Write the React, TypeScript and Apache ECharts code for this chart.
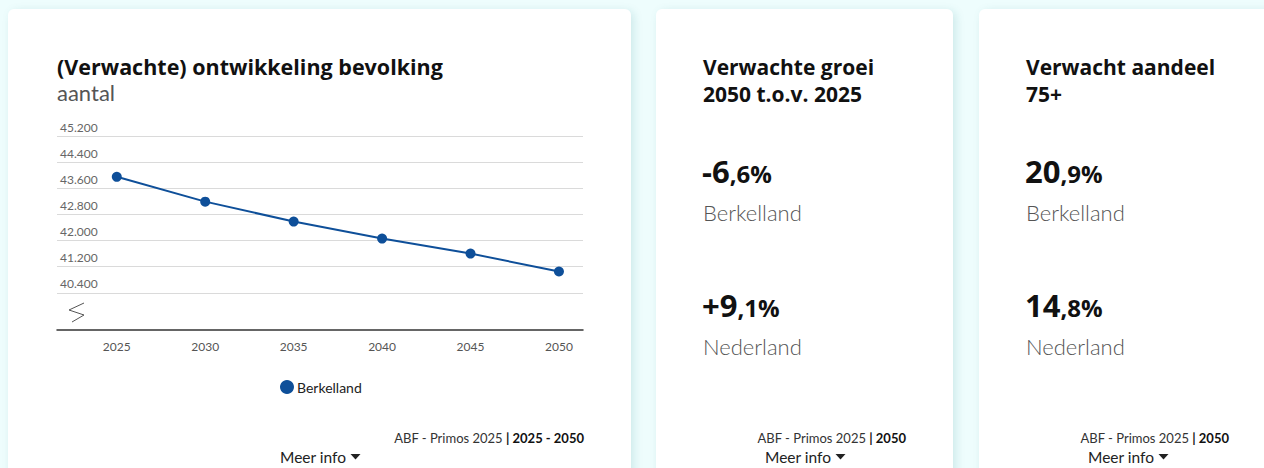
import React, { useEffect, useRef } from "react";
import * as echarts from "echarts";

// ---- data ----
const years = [2025, 2030, 2035, 2040, 2045, 2050];
const population = [43950, 43190, 42580, 42060, 41600, 41050];
const yTicks = [40400, 41200, 42000, 42800, 43600, 44400, 45200];
const seriesName = "Berkelland";
const chartTitle = "(Verwachte) ontwikkeling bevolking";
const chartSubtitle = "aantal";
const chartSourcePeriod = "2025 - 2050";

const cardTitles = ["Verwachte groei\n2050 t.o.v. 2025", "Verwacht aandeel\n75+"];
const regions = ["Berkelland", "Nederland"];
const growth = [-6.6, 9.1];
const share75 = [20.9, 14.8];
const cardSourcePeriods = ["2050", "2050"];
const sourceName = "ABF - Primos 2025";
const moreInfo = "Meer info";

const FONT = "Lato";
const BOLD = "Open Sans";
const BLUE = "#0e4f99";

const fmtThousands = (v: number) =>
  String(Math.round(v)).replace(/\B(?=(\d{3})+(?!\d))/g, ".");

const fmtPct = (v: number, signed: boolean) => {
  const s = signed ? (v < 0 ? "-" : "+") : "";
  const parts = Math.abs(v).toFixed(1).split(".");
  return `{a|${s}${parts[0]}}{b|,${parts[1]}%}`;
};

const cards = [
  { x: 8, w: 623 },
  { x: 656, w: 297 },
  { x: 979, w: 297 },
];

function footer(cardX: number, cardW: number, period: string): any[] {
  const center = cardX + cardW / 2;
  const right = cardX + cardW - 47;
  return [
    {
      type: "text",
      x: right,
      y: 438,
      z: 100,
      style: {
        text: `{r|${sourceName} }{b|| ${period}}`,
        textAlign: "right",
        textVerticalAlign: "middle",
        fontFamily: FONT,
        rich: {
          r: { fontSize: 13, fill: "#333", fontFamily: FONT },
          b: { fontSize: 13, fill: "#111", fontWeight: "bold", fontFamily: FONT },
        },
      },
    },
    {
      type: "text",
      x: center - 39.5,
      y: 457,
      z: 100,
      style: {
        text: moreInfo,
        fontSize: 15.5,
        fontFamily: FONT,
        fill: "#222",
        textVerticalAlign: "middle",
      },
    },
    {
      type: "polygon",
      z: 100,
      shape: {
        points: [
          [center + 31, 454],
          [center + 41, 454],
          [center + 36, 459.5],
        ],
      },
      style: { fill: "#222" },
    },
  ];
}

function statCard(cardX: number, title: string, values: number[], signed: boolean): any[] {
  const left = cardX + 47;
  const els: any[] = [
    {
      type: "text",
      x: left,
      y: 53,
      z: 100,
      style: {
        text: title,
        fontSize: 21,
        fontWeight: "bold",
        fontFamily: BOLD,
        fill: "#111",
        lineHeight: 27,
        textVerticalAlign: "top",
      },
    },
  ];
  const rowY = [168, 302];
  const labelY = [212, 346];
  values.forEach((v, i) => {
    els.push({
      type: "text",
      x: left - 1,
      y: rowY[i],
      z: 100,
      style: {
        text: fmtPct(v, signed),
        textVerticalAlign: "middle",
        fontFamily: BOLD,
        rich: {
          a: { fontSize: 31, fontWeight: "bold", fill: "#111", fontFamily: BOLD, verticalAlign: "bottom", lineHeight: 36 },
          b: { fontSize: 24, fontWeight: "bold", fill: "#111", fontFamily: BOLD, verticalAlign: "bottom", lineHeight: 36, padding: [0, 0, 1, 0] },
        },
      },
    });
    els.push({
      type: "text",
      x: left,
      y: labelY[i],
      z: 100,
      style: {
        text: regions[i],
        fontSize: 22,
        fontWeight: 300,
        fontFamily: FONT,
        fill: "#555",
        textVerticalAlign: "middle",
      },
    });
  });
  return els;
}

export default function App() {
  const ref = useRef<HTMLDivElement>(null);

  useEffect(() => {
    if (!ref.current) return;
    const chart = echarts.init(ref.current, undefined, { renderer: "svg" });

    const graphic: any[] = [
      {
        type: "text",
        x: 57,
        y: 66,
        z: 100,
        style: {
          text: chartTitle,
          fontSize: 21.5,
          fontWeight: "bold",
          fontFamily: BOLD,
          fill: "#111",
          textVerticalAlign: "middle",
        },
      },
      {
        type: "text",
        x: 57,
        y: 92,
        z: 100,
        style: {
          text: chartSubtitle,
          fontSize: 22,
          fontFamily: FONT,
          fontWeight: 400,
          fill: "#555",
          textVerticalAlign: "middle",
        },
      },
      {
        type: "polyline",
        z: 100,
        shape: {
          points: [
            [84, 303],
            [69, 310],
            [84, 315],
            [72, 322],
          ],
        },
        style: { stroke: "#555", lineWidth: 1, fill: "none" },
      },
      ...footer(cards[0].x, cards[0].w, chartSourcePeriod),
      ...statCard(cards[1].x, cardTitles[0], growth, true),
      ...footer(cards[1].x, cards[1].w, cardSourcePeriods[0]),
      ...statCard(cards[2].x, cardTitles[1], share75, false),
      ...footer(cards[2].x, cards[2].w, cardSourcePeriods[1]),
    ];

    const option: any = {
      animation: false,
      textStyle: { fontFamily: FONT },
      grid: { left: 57, right: 1264 - 583, top: 136, bottom: 468 - 330, containLabel: false },
      xAxis: {
        type: "value",
        min: 2021.62,
        max: 2051.36,
        splitLine: { show: false },
        axisLine: { show: true, lineStyle: { color: "#333", width: 1.5 } },
        axisTick: { show: false, customValues: years },
        axisLabel: {
          customValues: years,
          formatter: (v: number) => String(v),
          color: "#555",
          fontSize: 12,
          margin: 10,
          fontFamily: FONT,
        },
      },
      yAxis: {
        type: "value",
        min: 39260,
        max: 45200,
        axisLine: { show: false },
        axisTick: { show: false, customValues: yTicks },
        axisLabel: {
          customValues: yTicks,
          inside: true,
          formatter: (v: number) => fmtThousands(v),
          color: "#666",
          fontSize: 12,
          fontFamily: FONT,
          verticalAlign: "bottom",
          padding: [0, 0, 3, 0],
          margin: 3,
        },
        splitLine: { show: true, lineStyle: { color: "#dadada", width: 1.2 } },
      },
      legend: {
        data: [seriesName],
        left: 280,
        top: 380,
        padding: 0,
        icon: "circle",
        itemWidth: 14,
        itemHeight: 14,
        itemGap: 10,
        textStyle: { fontSize: 14, color: "#222", fontFamily: FONT, padding: [0, 0, 0, -2] },
      },
      series: [
        {
          type: "line",
          name: seriesName,
          data: years.map((y, i) => [y, population[i]]),
          symbol: "circle",
          symbolSize: 10,
          lineStyle: { color: BLUE, width: 2 },
          itemStyle: { color: BLUE },
          z: 5,
        },
      ],
      graphic,
    };

    chart.setOption(option);
    return () => chart.dispose();
  }, []);

  return (
    <div
      style={{
        position: "fixed",
        left: 0,
        top: 0,
        width: 1264,
        height: 468,
        background: "#eefdfd",
        overflow: "hidden",
      }}
    >
      {cards.map((c, i) => (
        <div
          key={i}
          style={{
            position: "absolute",
            left: c.x,
            top: 9,
            width: c.w,
            height: 480,
            background: "#fff",
            borderRadius: 6,
            boxShadow: "3px 2px 10px rgba(0,110,120,0.14)",
          }}
        />
      ))}
      <div ref={ref} style={{ position: "absolute", left: 0, top: 0, width: 1264, height: 468 }} />
    </div>
  );
}
